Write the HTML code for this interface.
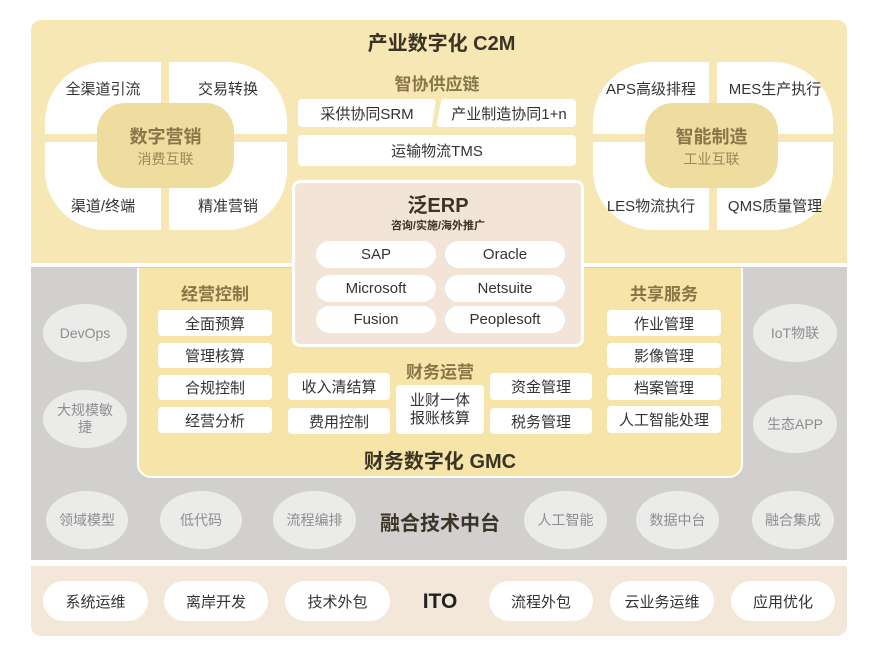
<!DOCTYPE html><html><head><meta charset="utf-8"><style>
body{margin:0;width:883px;height:645px;background:#fff;position:relative;font-family:"Liberation Sans","Noto Sans CJK SC",sans-serif;overflow:hidden}
div{position:absolute;box-sizing:border-box}
.c{display:flex;align-items:center;justify-content:center;text-align:center}
.w{background:#fff;border-radius:4px;font-size:15px;color:#333}
.e{background:#ebebea;border-radius:50%;font-size:14px;color:#8e8e8e;line-height:17px}
.p{background:#fff;border-radius:20px;font-size:15px;color:#333}
.t{font-weight:bold;color:#8a7448;font-size:17px}
.q{background:#fff;font-size:15px;color:#333;padding-bottom:0}
</style></head><body>
<div style="left:31px;top:20px;width:816px;height:243px;background:#f6e7b5;border-radius:10px 10px 0 0"></div>
<div style="left:31px;top:267px;width:816px;height:293px;background:#d1d0cf"></div>
<div style="left:31px;top:566px;width:816px;height:70px;background:#f3e7d9;border-radius:0 0 10px 10px"></div>
<div class="c" style="left:0;width:883px;top:28px;height:26px;font-size:20px;font-weight:bold;color:#3a3326">产业数字化 C2M</div>
<!-- marketing -->
<div class="q c" style="left:45px;top:62px;width:116px;height:72px;border-radius:60px 0 0 0;align-items:flex-start;padding-top:16px">全渠道引流</div>
<div class="q c" style="left:169px;top:62px;width:118px;height:72px;border-radius:0 60px 0 0;align-items:flex-start;padding-top:16px">交易转换</div>
<div class="q c" style="left:45px;top:142px;width:116px;height:88px;border-radius:0 0 0 60px;align-items:flex-end;padding-bottom:14px">渠道/终端</div>
<div class="q c" style="left:169px;top:142px;width:118px;height:88px;border-radius:0 0 60px 0;align-items:flex-end;padding-bottom:14px">精准营销</div>
<div class="c" style="left:97px;top:103px;width:137px;height:85px;background:#efdc9f;border-radius:28px;flex-direction:column"><span style="font-size:18px;font-weight:bold;color:#8a7448">数字营销</span><span style="font-size:14px;color:#9c8858">消费互联</span></div>
<!-- manufacturing -->
<div class="q c" style="left:593px;top:62px;width:116px;height:72px;border-radius:60px 0 0 0;align-items:flex-start;padding-top:16px">APS高级排程</div>
<div class="q c" style="left:717px;top:62px;width:116px;height:72px;border-radius:0 60px 0 0;align-items:flex-start;padding-top:16px">MES生产执行</div>
<div class="q c" style="left:593px;top:142px;width:116px;height:88px;border-radius:0 0 0 60px;align-items:flex-end;padding-bottom:14px">LES物流执行</div>
<div class="q c" style="left:717px;top:142px;width:116px;height:88px;border-radius:0 0 60px 0;align-items:flex-end;padding-bottom:14px">QMS质量管理</div>
<div class="c" style="left:645px;top:103px;width:133px;height:85px;background:#efdc9f;border-radius:28px;flex-direction:column"><span style="font-size:18px;font-weight:bold;color:#8a7448">智能制造</span><span style="font-size:14px;color:#9c8858">工业互联</span></div>
<!-- supply -->
<div class="c t" style="left:298px;width:278px;top:70px;height:24px">智协供应链</div>
<div class="w c" style="left:298px;top:99px;width:138px;height:28px;clip-path:polygon(0 0,100% 0,97% 100%,0 100%)">采供协同SRM</div>
<div class="w c" style="left:436px;top:99px;width:140px;height:28px;clip-path:polygon(4% 0,100% 0,100% 100%,0 100%);padding-left:6px">产业制造协同1+n</div>
<div class="w c" style="left:298px;top:135px;width:278px;height:31px">运输物流TMS</div>
<!-- GMC -->
<div style="left:137px;top:268px;width:606px;height:210px;background:#f6e4a8;border-radius:0 0 14px 14px;border:2px solid #fff;border-top:none"></div>
<div style="left:292px;top:180px;width:292px;height:167px;background:#f2e4d6;border:3px solid #fff;border-radius:8px"></div>
<div class="c" style="left:294px;width:288px;top:190px;height:26px;font-size:20px;font-weight:bold;color:#3a3326">泛ERP</div>
<div class="c" style="left:294px;width:288px;top:217px;height:16px;font-size:11px;font-weight:bold;color:#3a3326">咨询/实施/海外推广</div>
<div class="p c" style="left:316px;top:241px;width:120px;height:27px">SAP</div>
<div class="p c" style="left:445px;top:241px;width:120px;height:27px">Oracle</div>
<div class="p c" style="left:316px;top:275px;width:120px;height:27px">Microsoft</div>
<div class="p c" style="left:445px;top:275px;width:120px;height:27px">Netsuite</div>
<div class="p c" style="left:316px;top:306px;width:120px;height:27px">Fusion</div>
<div class="p c" style="left:445px;top:306px;width:120px;height:27px">Peoplesoft</div>
<div class="c t" style="left:158px;width:114px;top:280px;height:24px">经营控制</div>
<div class="w c" style="left:158px;top:310px;width:114px;height:26px">全面预算</div>
<div class="w c" style="left:158px;top:343px;width:114px;height:25px">管理核算</div>
<div class="w c" style="left:158px;top:375px;width:114px;height:25px">合规控制</div>
<div class="w c" style="left:158px;top:407px;width:114px;height:26px">经营分析</div>
<div class="c t" style="left:396px;width:88px;top:358px;height:24px">财务运营</div>
<div class="w c" style="left:288px;top:373px;width:102px;height:27px">收入清结算</div>
<div class="w c" style="left:288px;top:408px;width:102px;height:26px">费用控制</div>
<div class="w c" style="left:396px;top:385px;width:88px;height:49px;line-height:18px">业财一体<br>报账核算</div>
<div class="w c" style="left:490px;top:373px;width:102px;height:27px">资金管理</div>
<div class="w c" style="left:490px;top:408px;width:102px;height:26px">税务管理</div>
<div class="c t" style="left:607px;width:114px;top:280px;height:24px">共享服务</div>
<div class="w c" style="left:607px;top:310px;width:114px;height:26px">作业管理</div>
<div class="w c" style="left:607px;top:343px;width:114px;height:25px">影像管理</div>
<div class="w c" style="left:607px;top:375px;width:114px;height:25px">档案管理</div>
<div class="w c" style="left:607px;top:406px;width:114px;height:27px">人工智能处理</div>
<div class="c" style="left:137px;width:606px;top:446px;height:26px;font-size:20px;font-weight:bold;color:#3a3326">财务数字化 GMC</div>
<!-- side ellipses -->
<div class="e c" style="left:43px;top:304px;width:84px;height:58px">DevOps</div>
<div class="e c" style="left:43px;top:390px;width:84px;height:58px">大规模敏<br>捷</div>
<div class="e c" style="left:753px;top:304px;width:84px;height:58px">IoT物联</div>
<div class="e c" style="left:753px;top:395px;width:84px;height:58px">生态APP</div>
<div class="e c" style="left:46px;top:491px;width:82px;height:58px">领域模型</div>
<div class="e c" style="left:160px;top:491px;width:82px;height:58px">低代码</div>
<div class="e c" style="left:273px;top:491px;width:83px;height:58px">流程编排</div>
<div class="c" style="left:360px;width:160px;top:507px;height:28px;font-size:20px;font-weight:bold;color:#3a3326">融合技术中台</div>
<div class="e c" style="left:524px;top:491px;width:83px;height:58px">人工智能</div>
<div class="e c" style="left:636px;top:491px;width:83px;height:58px">数据中台</div>
<div class="e c" style="left:752px;top:491px;width:82px;height:58px">融合集成</div>
<!-- ITO -->
<div class="p c" style="left:43px;top:581px;width:105px;height:40px">系统运维</div>
<div class="p c" style="left:164px;top:581px;width:104px;height:40px">离岸开发</div>
<div class="p c" style="left:285px;top:581px;width:105px;height:40px">技术外包</div>
<div class="c" style="left:400px;width:80px;top:588px;height:28px;font-size:21px;font-weight:bold;color:#222">ITO</div>
<div class="p c" style="left:489px;top:581px;width:104px;height:40px">流程外包</div>
<div class="p c" style="left:610px;top:581px;width:104px;height:40px">云业务运维</div>
<div class="p c" style="left:731px;top:581px;width:104px;height:40px">应用优化</div>
</body></html>
